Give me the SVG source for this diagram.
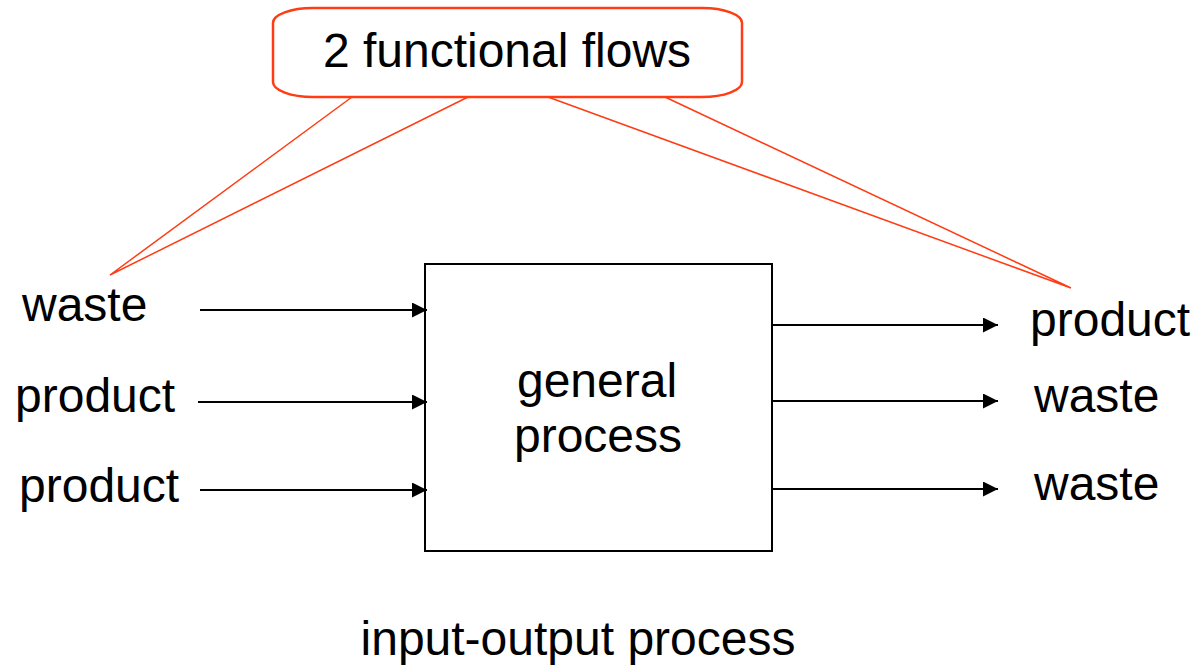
<svg xmlns="http://www.w3.org/2000/svg" width="1201" height="666" viewBox="0 0 1201 666">
<style>
text{font-family:"Liberation Sans",Arial,sans-serif;font-size:48px;fill:#000}
.red{stroke:#ff3c14;fill:none}
.flow{stroke:#000;stroke-width:2;fill:none;marker-end:url(#ah)}
</style>
<defs>
<marker id="ah" markerUnits="userSpaceOnUse" markerWidth="15" markerHeight="15" refX="15" refY="7.5" orient="auto">
<path d="M0,0 L15,7.5 L0,15 z" fill="#000"/>
</marker>
</defs>
<rect width="1201" height="666" fill="#fff"/>
<g id="callout">
<rect class="red" x="273" y="8" width="469" height="89" rx="40" ry="15" stroke-width="2.5"/>
<text x="507" y="67" text-anchor="middle">2 functional flows</text>
</g>
<g id="connectors">
<g class="red" stroke-width="1.5">
<polyline points="352,97 110,275 468,97"/>
<polyline points="548,97 1071,288 665,97"/>
</g>
<line class="flow" x1="200" y1="310" x2="427" y2="310"/>
<line class="flow" x1="198" y1="402" x2="427" y2="402"/>
<line class="flow" x1="200" y1="490" x2="427" y2="490"/>
<line class="flow" x1="772" y1="325" x2="998" y2="325"/>
<line class="flow" x1="772" y1="401" x2="998" y2="401"/>
<line class="flow" x1="772" y1="489" x2="998" y2="489"/>
</g>
<g id="process">
<rect x="425" y="264" width="347" height="287" fill="none" stroke="#000" stroke-width="2"/>
<text x="597" y="397" text-anchor="middle">general</text>
<text x="598" y="452" text-anchor="middle">process</text>
</g>
<g id="in-waste"><text x="22" y="321">waste</text></g>
<g id="in-product-1"><text x="15" y="412">product</text></g>
<g id="in-product-2"><text x="19" y="502">product</text></g>
<g id="out-product"><text x="1030" y="336">product</text></g>
<g id="out-waste-1"><text x="1034" y="412">waste</text></g>
<g id="out-waste-2"><text x="1034" y="500">waste</text></g>
<g id="caption"><text x="578" y="655" text-anchor="middle">input-output process</text></g>
</svg>
